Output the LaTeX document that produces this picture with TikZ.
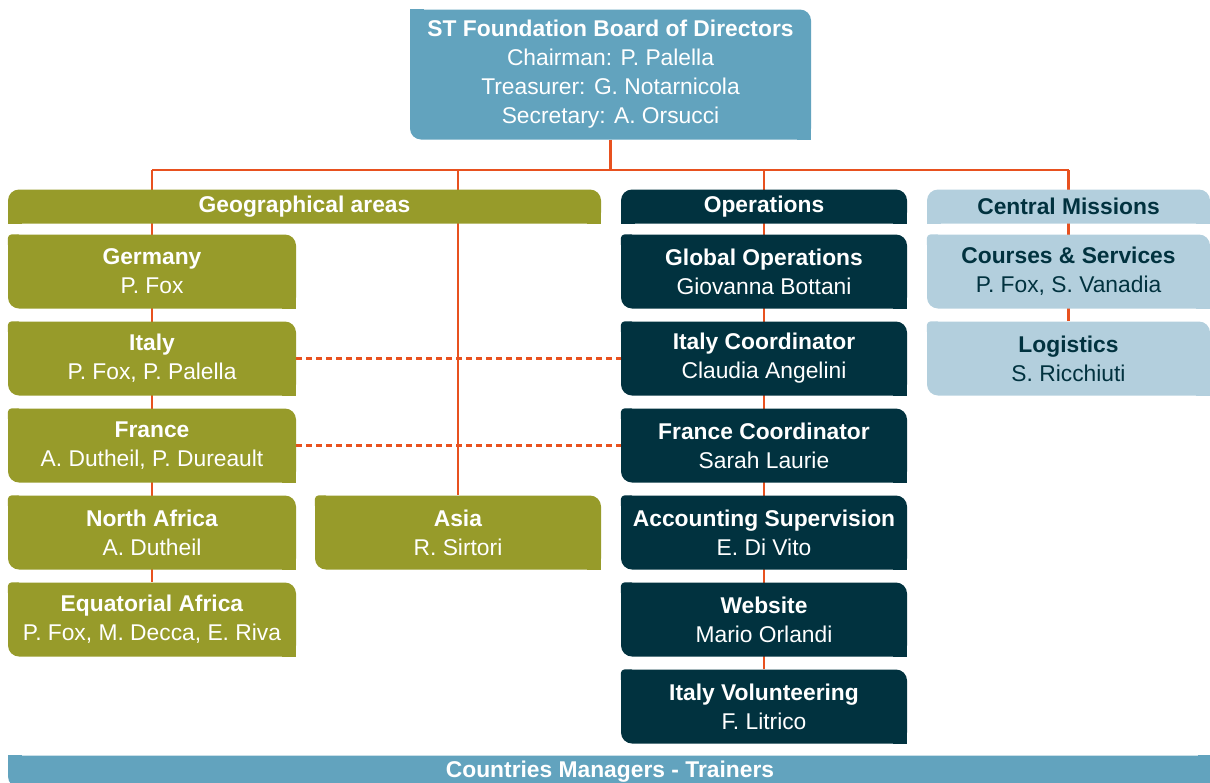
\documentclass[tikz,border=0pt]{standalone}
\usepackage{fontspec}
\setmainfont{Liberation Sans}
\usetikzlibrary{backgrounds}
\definecolor{boardblue}{HTML}{62A3BE}
\definecolor{geoolive}{HTML}{979B2A}
\definecolor{opsdark}{HTML}{01323F}
\definecolor{cmlight}{HTML}{B3CFDD}
\definecolor{linkorange}{HTML}{E8511F}

\begin{document}
\begin{tikzpicture}[x=1pt, y=-1pt,
    every node/.style={inner sep=0pt, align=center, font=\fontsize{22.8}{29}\selectfont},
    card/.style={rectangle, rounded corners=11pt, fill=#1, minimum width=288pt, minimum height=74pt,
        append after command={\pgfextra{
            \fill[#1, sharp corners] (\tikzlastnode.south east) rectangle ++(-14pt,14pt);
            \fill[#1, rounded corners=4pt] (\tikzlastnode.north west) rectangle ++(14pt,-14pt);}}},
    geocard/.style={card=geoolive, text=white},
    opscard/.style={card=opsdark, text=white, minimum width=286pt},
    cmcard/.style={card=cmlight, text=opsdark, minimum width=283pt},
    header/.style={rectangle, rounded corners=11pt, fill=#1, minimum height=34pt,
        font=\fontsize{22.8}{29}\selectfont\bfseries,
        append after command={\pgfextra{
            \fill[#1, sharp corners] (\tikzlastnode.south west) rectangle ++(14pt,14pt);
            \fill[#1, sharp corners] (\tikzlastnode.south east) rectangle ++(-14pt,14pt);}}},
    board/.style={rectangle, rounded corners=11pt, fill=boardblue, text=white,
        minimum width=401pt, minimum height=130pt,
        append after command={\pgfextra{
            \fill[boardblue, sharp corners] (\tikzlastnode.north west) rectangle ++(14pt,-14pt);
            \fill[boardblue, sharp corners] (\tikzlastnode.south east) rectangle ++(-14pt,14pt);}}},
    bottombar/.style={rectangle, rounded corners=11pt, fill=boardblue, text=white,
        minimum width=1204pt, minimum height=32pt, font=\fontsize{22.8}{29}\selectfont\bfseries,
        append after command={\pgfextra{
            \fill[boardblue, sharp corners] (\tikzlastnode.north west) rectangle ++(14pt,-14pt);
            \fill[boardblue, sharp corners] (\tikzlastnode.north east) rectangle ++(-14pt,-14pt);}}},
    link/.style={draw=linkorange, line width=2.4pt},
    dotlink/.style={link, dash pattern=on 6pt off 4pt}
    ]
    \useasboundingbox (0,0) rectangle (1210,782);

    % board and the three branches
    \node[board] (board) at (610.5,74.5) {\textbf{ST Foundation Board of Directors}\\Chairman: P. Palella\\Treasurer: G. Notarnicola\\Secretary: A. Orsucci};
    \coordinate (hub) at (610.5,170);
    \node[header=geoolive, text=white, minimum width=593pt] (geo) at (304.5,206.5) {Geographical areas};
    \node[header=opsdark, text=white, minimum width=286pt] (ops) at (764,206.5) {Operations};
    \node[header=cmlight, text=opsdark, minimum width=283pt] (central) at (1068.5,206.5) {Central Missions};

    % geographical areas
    \node[geocard] (germany) at (152,271.5) {\textbf{Germany}\\P. Fox};
    \node[geocard] (italy) at (152,358.5) {\textbf{Italy}\\P. Fox, P. Palella};
    \node[geocard] (france) at (152,445.5) {\textbf{France}\\A. Dutheil, P. Dureault};
    \node[geocard] (nafrica) at (152,532.5) {\textbf{North Africa}\\A. Dutheil};
    \node[geocard] (eqafrica) at (152,619.5) {\textbf{Equatorial Africa}\\P. Fox, M. Decca, E. Riva};
    \node[geocard, minimum width=286pt] (asia) at (458,532.5) {\textbf{Asia}\\R. Sirtori};

    % operations
    \node[opscard] (globalops) at (764,271.5) {\textbf{Global Operations}\\Giovanna Bottani};
    \node[opscard] (itcoord) at (764,358.5) {\textbf{Italy Coordinator}\\Claudia Angelini};
    \node[opscard] (frcoord) at (764,445.5) {\textbf{France Coordinator}\\Sarah Laurie};
    \node[opscard] (accounting) at (764,532.5) {\textbf{Accounting Supervision}\\E. Di Vito};
    \node[opscard] (website) at (764,619.5) {\textbf{Website}\\Mario Orlandi};
    \node[opscard] (itvolunteer) at (764,706.5) {\textbf{Italy Volunteering}\\F. Litrico};

    % central missions
    \node[cmcard] (courses) at (1068.5,271.5) {\textbf{Courses \& Services}\\P. Fox, S. Vanadia};
    \node[cmcard] (logistics) at (1068.5,358.5) {\textbf{Logistics}\\S. Ricchiuti};

    \node[bottombar] (trainers) at (610,771.5) {Countries Managers - Trainers};

    % connectors behind the boxes
    \begin{scope}[on background layer]
        \draw[link] (board) -- (hub);
        \draw[link] (hub -| germany) -- (hub -| courses);
        \draw[link] (hub -| germany) -- (eqafrica);
        \draw[link] (hub -| asia) -- (asia);
        \draw[link] (hub -| globalops) -- (itvolunteer);
        \draw[link] (hub -| courses) -- (logistics);
    \end{scope}
    \draw[dotlink] (italy.east) -- (itcoord.west);
    \draw[dotlink] (france.east) -- (frcoord.west);
\end{tikzpicture}
\end{document}
